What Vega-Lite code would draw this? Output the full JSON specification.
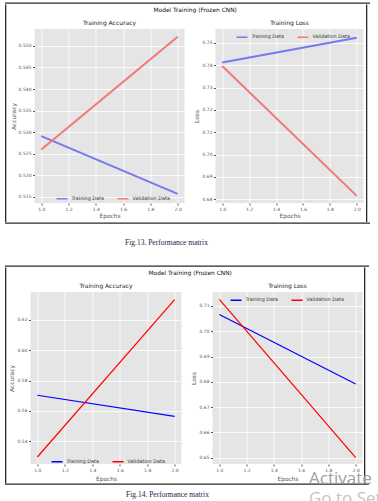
{
  "$schema": "https://vega.github.io/schema/vega-lite/v6.json",
  "background": "white",
  "padding": {"left": 5, "top": 2.5, "right": 0, "bottom": 0},
  "spacing": 19,
  "datasets": {
    "acc1": [
      {"epoch": 1, "value": 0.5291, "series": "Training Data"},
      {"epoch": 2, "value": 0.5157, "series": "Training Data"},
      {"epoch": 1, "value": 0.526, "series": "Validation Data"},
      {"epoch": 2, "value": 0.5521, "series": "Validation Data"}
    ],
    "loss1": [
      {"epoch": 1, "value": 0.7412, "series": "Training Data"},
      {"epoch": 2, "value": 0.7523, "series": "Training Data"},
      {"epoch": 1, "value": 0.7396, "series": "Validation Data"},
      {"epoch": 2, "value": 0.6815, "series": "Validation Data"}
    ],
    "acc2": [
      {"epoch": 1, "value": 0.5703, "series": "Training Data"},
      {"epoch": 2, "value": 0.5564, "series": "Training Data"},
      {"epoch": 1, "value": 0.5297, "series": "Validation Data"},
      {"epoch": 2, "value": 0.6332, "series": "Validation Data"}
    ],
    "loss2": [
      {"epoch": 1, "value": 0.7066, "series": "Training Data"},
      {"epoch": 2, "value": 0.6791, "series": "Training Data"},
      {"epoch": 1, "value": 0.7126, "series": "Validation Data"},
      {"epoch": 2, "value": 0.65, "series": "Validation Data"}
    ]
  },
  "title": {
    "text": "Activate",
    "subtitle": "Go to Settings",
    "orient": "bottom",
    "anchor": "start",
    "dx": 304,
    "offset": -27,
    "font": "Open Sans",
    "fontSize": 17,
    "fontWeight": "normal",
    "color": "#a0a0a0",
    "subtitleFont": "Open Sans",
    "subtitleFontSize": 17,
    "subtitleColor": "#c4c4c4",
    "subtitlePadding": 3
  },
  "resolve": {"scale": {"color": "independent"}, "legend": {"color": "independent"}},
  "vconcat": [
    {
      "spacing": 0,
      "title": {"text": "Fig.13. Performance matrix", "orient": "bottom", "anchor": "start", "dx": 120, "offset": 15, "font": "Liberation Serif", "fontSize": 7.5, "fontWeight": "normal", "color": "#1c1c3c"},
      "resolve": {"scale": {"color": "independent"}, "legend": {"color": "independent"}},
      "vconcat": [
        {"width": 365, "height": 1.3, "view": {"fill": "#2a2a2a", "stroke": null}, "data": {"values": []}, "mark": "rule", "encoding": {}},
        {
          "spacing": 2.5,
          "resolve": {"scale": {"color": "independent"}, "legend": {"color": "independent"}},
          "hconcat": [
            {"width": 1.3, "height": 217.5, "view": {"fill": "#2a2a2a", "stroke": null}, "data": {"values": []}, "mark": "rule", "encoding": {}},
            {
              "spacing": 7.5,
              "resolve": {"scale": {"color": "independent"}, "legend": {"color": "independent"}},
              "vconcat": [
                {
                  "width": 300, "height": 2,
                  "view": {"fill": null, "stroke": null},
                  "data": {"values": []}, "mark": "rule", "encoding": {},
                  "title": {"text": "Model Training (Frozen CNN)", "orient": "bottom", "anchor": "start", "frame": "group", "dx": 119, "offset": 0, "fontSize": 5.9, "fontWeight": "normal", "color": "#111"}
                },
                {
                  "spacing": 9,
                  "resolve": {"scale": {"color": "independent"}, "legend": {"color": "independent"}},
                  "hconcat": [
                    {
                      "width": 150, "height": 174,
                      "data": {"name": "acc1"},
                      "title": {"text": "Training Accuracy", "fontSize": 6, "fontWeight": "normal", "color": "#222", "offset": 3, "frame": "group", "anchor": "middle"},
                      "mark": {"type": "line", "strokeWidth": 2},
                      "encoding": {
                        "x": {"field": "epoch", "type": "quantitative", "scale": {"domain": [0.95, 2.05], "nice": false, "zero": false}, "axis": {"title": "Epochs", "values": [1, 1.2, 1.4, 1.6, 1.8, 2], "format": ".1f", "titlePadding": 1.5}},
                        "y": {"field": "value", "type": "quantitative", "scale": {"domain": [0.5136, 0.5539], "nice": false, "zero": false}, "axis": {"title": "Accuracy", "values": [0.515, 0.52, 0.525, 0.53, 0.535, 0.54, 0.545, 0.55], "format": ".3f", "titlePadding": 2}},
                        "color": {"field": "series", "type": "nominal", "scale": {"domain": ["Training Data", "Validation Data"], "range": ["#7878f2", "#f27878"]}, "legend": {"title": null, "orient": "none", "legendX": 21, "legendY": 163, "direction": "horizontal"}}
                      }
                    },
                    {
                      "width": 148, "height": 174,
                      "data": {"name": "loss1"},
                      "title": {"text": "Training Loss", "fontSize": 6, "fontWeight": "normal", "color": "#222", "offset": 3, "frame": "group", "anchor": "middle"},
                      "mark": {"type": "line", "strokeWidth": 2},
                      "encoding": {
                        "x": {"field": "epoch", "type": "quantitative", "scale": {"domain": [0.95, 2.05], "nice": false, "zero": false}, "axis": {"title": "Epochs", "values": [1, 1.2, 1.4, 1.6, 1.8, 2], "format": ".1f", "titlePadding": 1.5}},
                        "y": {"field": "value", "type": "quantitative", "scale": {"domain": [0.6783, 0.7562], "nice": false, "zero": false}, "axis": {"title": "Loss", "values": [0.68, 0.69, 0.7, 0.71, 0.72, 0.73, 0.74, 0.75], "format": ".2f", "titlePadding": 2}},
                        "color": {"field": "series", "type": "nominal", "scale": {"domain": ["Training Data", "Validation Data"], "range": ["#7878f2", "#f27878"]}, "legend": {"title": null, "orient": "none", "legendX": 20, "legendY": 1.5, "direction": "horizontal"}}
                      }
                    }
                  ]
                }
              ]
            },
            {"width": 1.3, "height": 217.5, "view": {"fill": "#2a2a2a", "stroke": null}, "data": {"values": []}, "mark": "rule", "encoding": {}}
          ]
        },
        {"width": 365, "height": 1.3, "view": {"fill": "#2a2a2a", "stroke": null}, "data": {"values": []}, "mark": "rule", "encoding": {}}
      ]
    },
    {
      "spacing": 0,
      "title": {"text": "Fig.14. Performance matrix", "orient": "bottom", "anchor": "start", "dx": 121, "offset": 6, "font": "Liberation Serif", "fontSize": 7.5, "fontWeight": "normal", "color": "#1c1c3c"},
      "resolve": {"scale": {"color": "independent"}, "legend": {"color": "independent"}},
      "vconcat": [
        {"width": 364, "height": 1.3, "view": {"fill": "#2a2a2a", "stroke": null}, "data": {"values": []}, "mark": "rule", "encoding": {}},
        {
          "spacing": 1.5,
          "resolve": {"scale": {"color": "independent"}, "legend": {"color": "independent"}},
          "hconcat": [
            {"width": 1.3, "height": 216, "view": {"fill": "#2a2a2a", "stroke": null}, "data": {"values": []}, "mark": "rule", "encoding": {}},
            {
              "spacing": 7.5,
              "resolve": {"scale": {"color": "independent"}, "legend": {"color": "independent"}},
              "vconcat": [
                {
                  "width": 300, "height": 2,
                  "view": {"fill": null, "stroke": null},
                  "data": {"values": []}, "mark": "rule", "encoding": {},
                  "title": {"text": "Model Training (Frozen CNN)", "orient": "bottom", "anchor": "start", "frame": "group", "dx": 118, "offset": 0, "fontSize": 5.9, "fontWeight": "normal", "color": "#111"}
                },
                {
                  "spacing": 9,
                  "resolve": {"scale": {"color": "independent"}, "legend": {"color": "independent"}},
                  "hconcat": [
                    {
                      "width": 151, "height": 172,
                      "data": {"name": "acc2"},
                      "title": {"text": "Training Accuracy", "fontSize": 6, "fontWeight": "normal", "color": "#222", "offset": 3, "frame": "group", "anchor": "middle"},
                      "mark": {"type": "line", "strokeWidth": 1.2},
                      "encoding": {
                        "x": {"field": "epoch", "type": "quantitative", "scale": {"domain": [0.95, 2.05], "nice": false, "zero": false}, "axis": {"title": "Epochs", "values": [1, 1.2, 1.4, 1.6, 1.8, 2], "format": ".1f", "titlePadding": 3.5}},
                        "y": {"field": "value", "type": "quantitative", "scale": {"domain": [0.5251, 0.6382], "nice": false, "zero": false}, "axis": {"title": "Accuracy", "values": [0.54, 0.56, 0.58, 0.6, 0.62], "format": ".2f", "titlePadding": 2}},
                        "color": {"field": "series", "type": "nominal", "scale": {"domain": ["Training Data", "Validation Data"], "range": ["#0000ff", "#ff0000"]}, "legend": {"title": null, "orient": "none", "legendX": 20, "legendY": 163, "direction": "horizontal"}}
                      }
                    },
                    {
                      "width": 150, "height": 172,
                      "data": {"name": "loss2"},
                      "title": {"text": "Training Loss", "fontSize": 6, "fontWeight": "normal", "color": "#222", "offset": 3, "frame": "group", "anchor": "middle"},
                      "mark": {"type": "line", "strokeWidth": 1.2},
                      "encoding": {
                        "x": {"field": "epoch", "type": "quantitative", "scale": {"domain": [0.95, 2.05], "nice": false, "zero": false}, "axis": {"title": "Epochs", "values": [1, 1.2, 1.4, 1.6, 1.8, 2], "format": ".1f", "titlePadding": 3.5}},
                        "y": {"field": "value", "type": "quantitative", "scale": {"domain": [0.6475, 0.7155], "nice": false, "zero": false}, "axis": {"title": "Loss", "values": [0.65, 0.66, 0.67, 0.68, 0.69, 0.7, 0.71], "format": ".2f", "titlePadding": 2}},
                        "color": {"field": "series", "type": "nominal", "scale": {"domain": ["Training Data", "Validation Data"], "range": ["#0000ff", "#ff0000"]}, "legend": {"title": null, "orient": "none", "legendX": 17, "legendY": 1.5, "direction": "horizontal"}}
                      }
                    }
                  ]
                }
              ]
            },
            {"width": 1.3, "height": 216, "view": {"fill": "#2a2a2a", "stroke": null}, "data": {"values": []}, "mark": "rule", "encoding": {}}
          ]
        },
        {"width": 364, "height": 1.3, "view": {"fill": "#2a2a2a", "stroke": null}, "data": {"values": []}, "mark": "rule", "encoding": {}}
      ]
    }
  ],
  "config": {
    "font": "DejaVu Sans",
    "view": {"fill": "#E5E5E5", "stroke": null},
    "axis": {"domain": false, "grid": true, "gridColor": "#ffffff", "gridWidth": 0.8, "tickColor": "#555555", "tickSize": 2, "labelColor": "#555555", "labelFontSize": 4.5, "labelPadding": 1.5, "titleColor": "#555555", "titleFontSize": 5.9, "titleFontWeight": "normal"},
    "legend": {"symbolType": "stroke", "symbolSize": 121, "symbolStrokeWidth": 1.5, "labelFontSize": 4.9, "labelColor": "#333333", "labelOffset": 3, "columnPadding": 10, "padding": 0, "rowPadding": 0}
  }
}
